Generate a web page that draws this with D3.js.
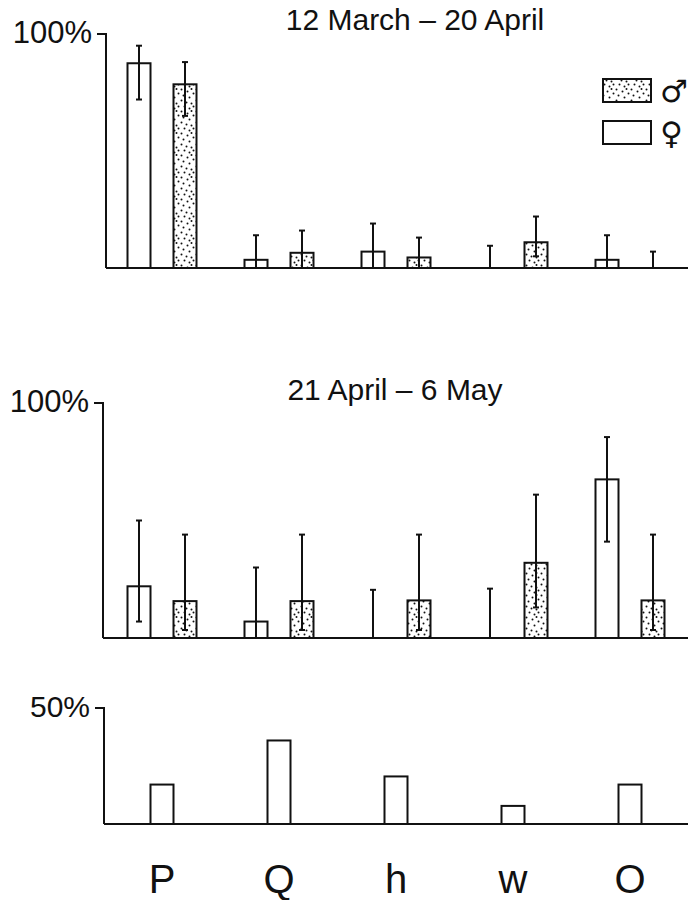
<!DOCTYPE html>
<html>
<head>
<meta charset="utf-8">
<script src="https://cdn.jsdelivr.net/npm/d3@7"></script>
<style>
  body { margin: 0; background: #fff; }
  svg text { font-family: "Liberation Sans", "DejaVu Sans", sans-serif; fill: #111; }
</style>
</head>
<body>
<svg id="chart" width="690" height="900"></svg>
<script>
"use strict";

// categories along the x axis
const categories = ['P', 'Q', 'h', 'w', 'O'];

// 12 March - 20 April (percent)
const p1Female   = [87.5, 3.5, 7, 0, 3.5];
const p1FemaleHi = [95, 14, 19, 9.5, 14];
const p1FemaleLo = [72, 0, 0, 0, 0];
const p1Male     = [78.5, 6.5, 4.5, 11, 0];
const p1MaleHi   = [88, 16, 13, 22, 7];
const p1MaleLo   = [65, 0, 0, 5, 0];

// 21 April - 6 May (percent)
const p2Female   = [22, 7, 0, 0, 67.5];
const p2FemaleHi = [50, 30, 20.5, 21, 85.5];
const p2FemaleLo = [7, 0, 0, 0, 41];
const p2Male     = [15.7, 15.7, 16, 32, 16];
const p2MaleHi   = [44, 44, 44, 61, 44];
const p2MaleLo   = [3.4, 3.4, 3.4, 13, 3.4];

// bottom panel (percent, axis to 50%)
const bottomValues = [17, 36, 20.5, 7.8, 17];

const svg = d3.select('#chart');
const ink = '#111';

/*-- stipple pattern for the male bars ---------------------------------------*/
const dots = [[1,1],[7,3],[11,0.5],[3,7],[9,9],[13,5],[1,12],[6,14],[11,15],[4,18],[9,20],[13,18]];
const pat = svg.append('defs').append('pattern')
    .attr('id', 'stipple')
    .attr('patternUnits', 'userSpaceOnUse')
    .attr('width', 15).attr('height', 22);
pat.append('rect').attr('width', 15).attr('height', 22).attr('fill', '#fff');
pat.selectAll('circle').data(dots).enter().append('circle')
   .attr('cx', function(d){ return d[0] + 0.5; })
   .attr('cy', function(d){ return d[1] + 0.5; })
   .attr('r', 1)
   .attr('fill', ink);

const x = d3.scalePoint().domain(categories).range([162, 630]);
const barW = 23;
const offset = 23;

const drawPanel = function(cfg){
    const y = d3.scaleLinear().domain([0, cfg.max]).range([cfg.base, cfg.top]);
    const g = svg.append('g');

    // y axis with one tick at top
    g.append('line').attr('x1', cfg.axisX).attr('x2', cfg.axisX)
     .attr('y1', y(0)).attr('y2', y(cfg.max))
     .attr('stroke', ink).attr('stroke-width', 2);
    g.append('line').attr('x1', cfg.axisX - 9).attr('x2', cfg.axisX + 1)
     .attr('y1', y(cfg.max)).attr('y2', y(cfg.max))
     .attr('stroke', ink).attr('stroke-width', 2);
    g.append('text').attr('x', cfg.axisX - 14).attr('y', y(cfg.max) + 9)
     .attr('text-anchor', 'end').style('font-size', cfg.labelSize)
     .text(cfg.max + '%');

    // baseline
    g.append('line').attr('x1', cfg.axisX).attr('x2', 688)
     .attr('y1', y(0)).attr('y2', y(0))
     .attr('stroke', ink).attr('stroke-width', 2);

    if (cfg.title){
        g.append('text').attr('x', cfg.titleX).attr('y', cfg.titleY)
         .attr('text-anchor', 'middle').style('font-size', '30px')
         .text(cfg.title);
    }

    cfg.series.forEach(function(s){
        const rows = categories.map(function(c, i){
            return {cat: c, v: s.values[i], hi: s.hi ? s.hi[i] : null, lo: s.lo ? s.lo[i] : 0};
        });
        const cx = function(d){ return x(d.cat) + s.shift; };

        g.selectAll(null).data(rows.filter(function(d){ return d.v > 0; }))
         .enter().append('rect')
         .attr('x', function(d){ return cx(d) - barW / 2; })
         .attr('y', function(d){ return y(d.v); })
         .attr('width', barW)
         .attr('height', function(d){ return y(0) - y(d.v); })
         .attr('fill', s.fill)
         .attr('stroke', ink).attr('stroke-width', 2);

        if (!s.hi) return;
        const eb = g.selectAll(null).data(rows).enter().append('g');
        eb.append('line')
          .attr('x1', cx).attr('x2', cx)
          .attr('y1', function(d){ return y(d.lo); })
          .attr('y2', function(d){ return y(d.hi); })
          .attr('stroke', ink).attr('stroke-width', 2);
        eb.append('line')
          .attr('x1', function(d){ return cx(d) - 3; })
          .attr('x2', function(d){ return cx(d) + 3; })
          .attr('y1', function(d){ return y(d.hi); })
          .attr('y2', function(d){ return y(d.hi); })
          .attr('stroke', ink).attr('stroke-width', 2);
        eb.filter(function(d){ return d.lo > 0; }).append('line')
          .attr('x1', function(d){ return cx(d) - 3; })
          .attr('x2', function(d){ return cx(d) + 3; })
          .attr('y1', function(d){ return y(d.lo); })
          .attr('y2', function(d){ return y(d.lo); })
          .attr('stroke', ink).attr('stroke-width', 2);
    });
};

drawPanel({
    max: 100, top: 34, base: 268, axisX: 106, labelSize: '31px',
    title: '12 March \u2013 20 April', titleX: 415, titleY: 30,
    series: [
        {values: p1Female, hi: p1FemaleHi, lo: p1FemaleLo, shift: -offset, fill: '#fff'},
        {values: p1Male, hi: p1MaleHi, lo: p1MaleLo, shift: offset, fill: 'url(#stipple)'}
    ]
});

drawPanel({
    max: 100, top: 403, base: 638, axisX: 103, labelSize: '31px',
    title: '21 April \u2013 6 May', titleX: 395, titleY: 400,
    series: [
        {values: p2Female, hi: p2FemaleHi, lo: p2FemaleLo, shift: -offset, fill: '#fff'},
        {values: p2Male, hi: p2MaleHi, lo: p2MaleLo, shift: offset, fill: 'url(#stipple)'}
    ]
});

drawPanel({
    max: 50, top: 708, base: 824, axisX: 104, labelSize: '30px',
    series: [
        {values: bottomValues, shift: 0, fill: '#fff'}
    ]
});

/*-- category labels ---------------------------------------------------------*/
svg.selectAll('.cat').data(categories).enter().append('text')
   .attr('class', 'cat')
   .attr('x', function(d){ return x(d); })
   .attr('y', 893)
   .attr('text-anchor', 'middle')
   .style('font-size', '40px')
   .text(function(d){ return d; });

/*-- legend ------------------------------------------------------------------*/
const legend = svg.append('g');
const legendItems = [
    {fill: 'url(#stipple)', sym: '\u2642', y: 79},
    {fill: '#fff', sym: '\u2640', y: 121}
];
legend.selectAll('rect').data(legendItems).enter().append('rect')
      .attr('x', 603).attr('y', function(d){ return d.y; })
      .attr('width', 48).attr('height', 23)
      .attr('fill', function(d){ return d.fill; })
      .attr('stroke', ink).attr('stroke-width', 2);
legend.selectAll('text').data(legendItems).enter().append('text')
      .attr('x', 660).attr('y', function(d){ return d.y + 23; })
      .style('font-family', '"DejaVu Sans", sans-serif')
      .style('font-size', '31px')
      .text(function(d){ return d.sym; });
</script>
</body>
</html>
